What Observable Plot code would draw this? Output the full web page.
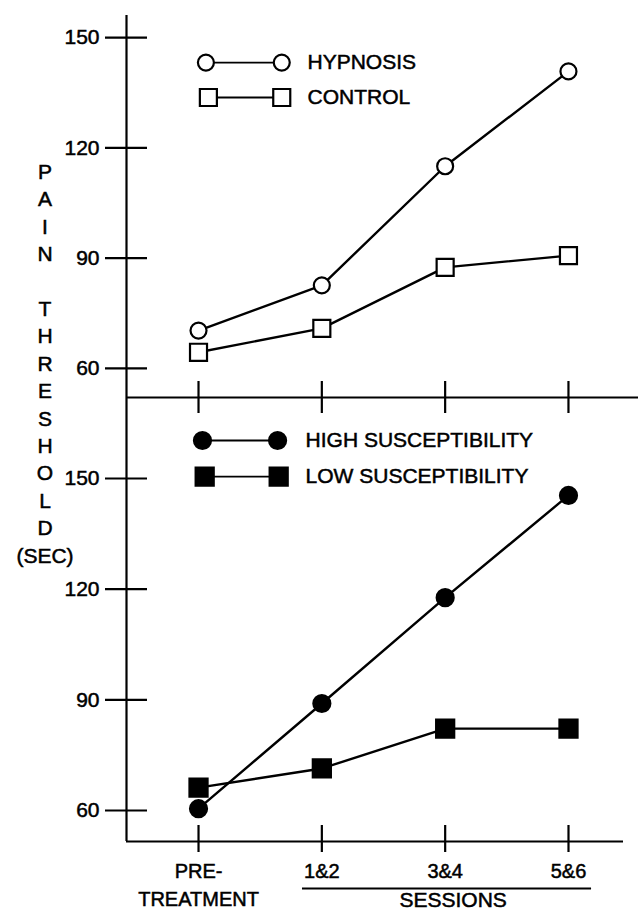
<!DOCTYPE html>
<html><head><meta charset="utf-8">
<script src="https://cdn.jsdelivr.net/npm/d3@7"></script>
<script src="https://cdn.jsdelivr.net/npm/@observablehq/plot@0.6"></script>
<style>
body{margin:0;background:#fff;}
#wrap{position:relative;width:638px;height:914px;background:#fff;font-family:"Liberation Sans",Arial,Helvetica,sans-serif;color:#000;overflow:hidden;}
#wrap svg{position:absolute;left:0;}
#wrap svg text{stroke:#000;stroke-width:0.5px;}
#ylab{position:absolute;left:0;width:90px;text-align:center;font-size:21px;line-height:27.4px;top:158px;-webkit-text-stroke:0.5px #000;}
</style></head><body>
<div id="wrap"><div id="ylab"></div></div>
<script>
// ---- data ----
const sessions = ["PRE-\nTREATMENT", "1&2", "3&4", "5&6"];
const hypnosis = [70.3, 82.6, 115, 140.8];
const control = [64.4, 70.9, 87.5, 90.7];
const highSusceptibility = [60.5, 89, 117.7, 145.4];
const lowSusceptibility = [66.2, 71.4, 82.2, 82.2];
const yTicks = [60, 90, 120, 150];
const yTitle = ["P", "A", "I", "N", "", "T", "H", "R", "E", "S", "H", "O", "L", "D", "(SEC)"];
const topLegend = ["HYPNOSIS", "CONTROL"];
const bottomLegend = ["HIGH SUSCEPTIBILITY", "LOW SUSCEPTIBILITY"];
const xLabelGroup = "SESSIONS";

// ---- helpers ----
const rows = vals => vals.map((v, i) => ({x: i, y: v}));
const idx = d3.range(sessions.length);
const W = 638;
const font = {fontFamily: "'Liberation Sans', Arial, Helvetica, sans-serif", fontSize: "21px", background: "transparent", overflow: "visible", color: "black"};

function series(vals, symbol, r, fill) {
  return [
    Plot.line(rows(vals), {x: "x", y: "y", stroke: "black", strokeWidth: 2.4}),
    Plot.dot(rows(vals), {x: "x", y: "y", symbol, r, fill, stroke: "black", strokeWidth: 2.2})
  ];
}
function legendRow(label, y, x1, x2, xt, symbol, r, fill) {
  const pts = [{x: x1, y}, {x: x2, y}];
  return [
    Plot.line(pts, {x: "x", y: "y", stroke: "black", strokeWidth: 1.8}),
    Plot.dot(pts, {x: "x", y: "y", symbol, r, fill, stroke: "black", strokeWidth: 2.2}),
    Plot.text([label], {x: xt, y, text: d => d, textAnchor: "start", fontSize: 21})
  ];
}

// ---- top panel ----
const topX = [-0.584, 3.568];
const topY = [52.1, 156];
const topMargin = {t: 15, b: 23, l: 126, r: 0};
const topH = 420;
const topFrameW = W - topMargin.l - topMargin.r;
const topFrameH = topH - topMargin.t - topMargin.b;

const topPlot = Plot.plot({
  width: W, height: topH,
  marginTop: topMargin.t, marginBottom: topMargin.b, marginLeft: topMargin.l, marginRight: topMargin.r,
  x: {type: "linear", domain: topX, axis: null},
  y: {type: "linear", domain: topY, axis: null},
  style: font,
  marks: [
    Plot.ruleX([topX[0]], {stroke: "black", strokeWidth: 2.2}),
    Plot.ruleY([topY[0]], {stroke: "black", strokeWidth: 2.2}),
    Plot.tickY(yTicks, {y: d => d, insetLeft: -21, insetRight: topFrameW - 21, stroke: "black", strokeWidth: 2.2}),
    Plot.axisY({ticks: yTicks, tickSize: 0, tickPadding: 27, label: null, fontSize: 21}),
    Plot.tickX(idx, {x: d => d, insetTop: topFrameH - 16, insetBottom: -16, stroke: "black", strokeWidth: 2.2}),
    ...legendRow(topLegend[0], 143.2, 0.06, 0.675, 0.884, "circle", 8, "white"),
    ...legendRow(topLegend[1], 133.7, 0.08, 0.675, 0.884, "square", 9.6, "white"),
    ...series(control, "square", 9.6, "white"),
    ...series(hypnosis, "circle", 8, "white")
  ]
});
topPlot.style.top = "0px";

// ---- bottom panel ----
const botX = [-0.584, 3.446];
const botY = [51.6, 171.95];
const botMargin = {t: 0, b: 73, l: 126, r: 15};
const botH = 517;
const botFrameW = W - botMargin.l - botMargin.r;
const botFrameH = botH - botMargin.t - botMargin.b;

const botPlot = Plot.plot({
  width: W, height: botH,
  marginTop: botMargin.t, marginBottom: botMargin.b, marginLeft: botMargin.l, marginRight: botMargin.r,
  x: {type: "linear", domain: botX, axis: null},
  y: {type: "linear", domain: botY, axis: null},
  style: font,
  marks: [
    Plot.ruleX([botX[0]], {stroke: "black", strokeWidth: 2.2}),
    Plot.ruleY([botY[0]], {stroke: "black", strokeWidth: 2.2}),
    Plot.tickY(yTicks, {y: d => d, insetLeft: -21, insetRight: botFrameW - 21, stroke: "black", strokeWidth: 2.2}),
    Plot.axisY({ticks: yTicks, tickSize: 0, tickPadding: 27, label: null, fontSize: 21}),
    Plot.tickX(idx, {x: d => d, insetTop: botFrameH - 16, insetBottom: -11, stroke: "black", strokeWidth: 2.2}),
    Plot.text(idx, {x: d => d, text: d => sessions[d], frameAnchor: "bottom", lineAnchor: "top", dy: 17, lineHeight: 1.4, fontSize: 20}),
    Plot.ruleY([botY[0]], {x1: 1 - 0.157, x2: 3 + 0.187, dy: 47, stroke: "black", strokeWidth: 1.8}),
    Plot.text([xLabelGroup], {x: 2, dx: 8, text: d => d, frameAnchor: "bottom", lineAnchor: "top", dy: 51, fontSize: 21}),
    ...legendRow(bottomLegend[0], 160.3, 0.032, 0.641, 0.868, "circle", 8.5, "black"),
    ...legendRow(bottomLegend[1], 150.5, 0.05, 0.65, 0.868, "square", 10.2, "black"),
    ...series(lowSusceptibility, "square", 10.2, "black"),
    ...series(highSusceptibility, "circle", 8.5, "black")
  ]
});
botPlot.style.top = "397px";

const wrap = document.getElementById("wrap");
wrap.appendChild(topPlot);
wrap.appendChild(botPlot);
document.getElementById("ylab").innerHTML = yTitle.map(s => `<div>${s || "&nbsp;"}</div>`).join("");
</script>
</body></html>
